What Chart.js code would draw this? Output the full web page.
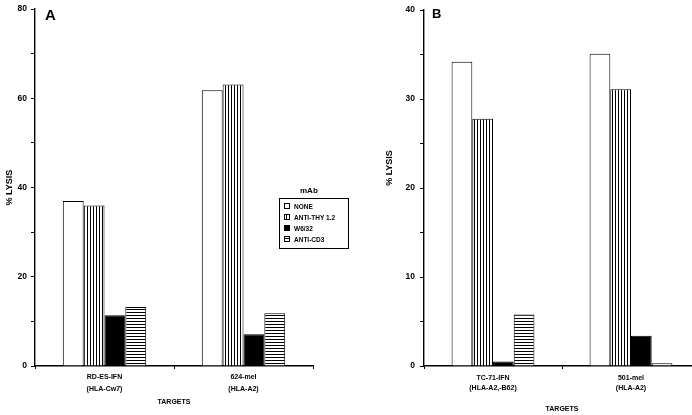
<!DOCTYPE html>
<html>
<head>
<meta charset="utf-8">
<script src="https://cdn.jsdelivr.net/npm/chart.js@4"></script>
<style>
  html, body { margin: 0; padding: 0; background: #fff; overflow: hidden; }
  body { width: 692px; height: 415px; position: relative; font-family: "Liberation Sans", Arial, sans-serif; }
  .panel { position: absolute; top: 0; height: 415px; overflow: hidden; }
  #panelA { left: 0; width: 345px; }
  #panelB { left: 345px; width: 347px; }
  #legendTitle { position: absolute; left: 300px; top: 186px; font: bold 8px "Liberation Sans", Arial, sans-serif; }
  #legend { position: absolute; left: 279px; top: 198px; width: 70px; height: 51px; border: 1px solid #000; box-sizing: border-box; background: #fff; }
  .row { position: absolute; left: 4px; height: 7px; font: bold 6.5px/7px "Liberation Sans", Arial, sans-serif; white-space: nowrap; }
  .sw { position: absolute; left: 0; top: 0; width: 6px; height: 6px; border: 1px solid #000; box-sizing: border-box; background: #fff; }
  .sw.s1 { background: linear-gradient(90deg, #fff 0 1.5px, #000 1.5px 2.5px, #fff 2.5px); }
  .sw.s2 { background: #000; }
  .sw.s3 { background: linear-gradient(180deg, #fff 0 1.5px, #000 1.5px 2.5px, #fff 2.5px); }
  .row span { position: absolute; left: 10px; top: 0; }
</style>
</head>
<body>
<div class="panel" id="panelA"><canvas id="chartA" width="345" height="415"></canvas></div>
<div class="panel" id="panelB"><canvas id="chartB" width="360" height="415"></canvas></div>
<div id="legendTitle">mAb</div>
<div id="legend"></div>
<script>
// ---- data ----
const seriesNames = ["NONE", "ANTI-THY 1.2", "W6/32", "ANTI-CD3"];

const targetsA = [["RD-ES-IFN", "(HLA-Cw7)"], ["624-mel", "(HLA-A2)"]];
const noneA = [37.0, 61.8];
const thyA = [36.0, 63.1];
const w632A = [11.4, 7.1];
const cd3A = [13.2, 11.8];

const targetsB = [["TC-71-IFN", "(HLA-A2,-B62)"], ["501-mel", "(HLA-A2)"]];
const noneB = [34.2, 35.1];
const thyB = [27.8, 31.1];
const w632B = [0.5, 3.4];
const cd3B = [5.8, 0.3];

// ---- fills ----
const FONT = "'Liberation Sans', Arial, sans-serif";
Chart.defaults.font.family = FONT;
Chart.defaults.color = "#000";

function stripes(dir) {
    const tile = document.createElement("canvas");
    tile.width = 3; tile.height = 3;
    const g = tile.getContext("2d");
    g.fillStyle = "#fff";
    g.fillRect(0, 0, 3, 3);
    g.fillStyle = "#000";
    if (dir === "v") g.fillRect(0, 0, 1, 3);
    else g.fillRect(0, 0, 3, 1);
    return g.createPattern(tile, "repeat");
}
const fills = ["#fff", stripes("v"), "#000", stripes("h")];

// text drawn straight onto the canvas (panel letters etc.)
const textMarks = {
    id: "textMarks",
    afterDraw(chart, args, opts) {
        const c = chart.ctx;
        (opts.items || []).forEach(t => {
            c.save();
            c.font = t.font;
            c.fillStyle = "#000";
            c.textAlign = t.align || "left";
            c.textBaseline = t.baseline || "alphabetic";
            c.translate(t.x, t.y);
            if (t.rotate) c.rotate(t.rotate);
            c.fillText(t.text, 0, 0);
            c.restore();
        });
    }
};

function makeDatasets(values) {
    return values.map((vals, i) => ({
        label: seriesNames[i],
        data: vals,
        backgroundColor: fills[i],
        borderColor: "#000",
        borderWidth: 1,
        categoryPercentage: 0.6,
        barPercentage: 1.0
    }));
}

function buildChart(id, labels, values, cfg) {
    return new Chart(document.getElementById(id), {
        type: "bar",
        data: { labels: labels, datasets: makeDatasets(values) },
        plugins: [textMarks],
        options: {
            responsive: false,
            animation: false,
            layout: { padding: cfg.padding },
            plugins: {
                legend: { display: false },
                tooltip: { enabled: false },
                textMarks: { items: cfg.texts }
            },
            scales: {
                x: {
                    afterFit: s => { s.height = 49; },
                    ticks: {
                        autoSkip: false, maxRotation: 0,
                        padding: cfg.xPad,
                        font: { size: 7, weight: "bold", lineHeight: cfg.xLine }
                    },
                    grid: { display: true, drawOnChartArea: false, offset: true, tickLength: 3, color: "#000" },
                    border: { display: true, color: "#000", width: 1.4 },
                    title: {
                        display: true, text: "TARGETS",
                        font: { size: 7, weight: "bold" },
                        padding: { top: 0, bottom: cfg.titlePad }
                    }
                },
                y: {
                    min: 0, max: cfg.yMax,
                    afterFit: s => { s.width = cfg.yWidth; },
                    ticks: {
                        stepSize: cfg.yStep / 2, autoSkip: false,
                        padding: cfg.yTickPad,
                        font: { size: 8.5, weight: "bold" },
                        callback: v => (v % cfg.yStep === 0 ? v : "")
                    },
                    grid: { display: true, drawOnChartArea: false, drawTicks: true, tickLength: 4, color: "#000" },
                    border: { display: true, color: "#000", width: 1.4 },
                    title: {
                        display: cfg.yTitle, text: "% LYSIS",
                        font: { size: 9, weight: "bold" },
                        padding: { top: 4, bottom: 0 }
                    }
                }
            }
        }
    });
}

buildChart("chartA", targetsA, [noneA, thyA, w632A, cd3A], {
    padding: { left: 0, top: 9, right: 32, bottom: 0 },
    yMax: 80, yStep: 20, yWidth: 35, yTickPad: 4, yTitle: true,
    xPad: 2, xLine: 1.7, titlePad: 9,
    texts: [{ text: "A", x: 45, y: 20, font: "bold 15px " + FONT }]
});

buildChart("chartB", targetsB, [noneB, thyB, w632B, cd3B], {
    padding: { left: 0, top: 9, right: 5, bottom: 0 },
    yMax: 40, yStep: 10, yWidth: 79, yTickPad: 5, yTitle: false,
    xPad: 5, xLine: 1.3, titlePad: 1.3,
    texts: [
        { text: "B", x: 87, y: 18, font: "bold 13px " + FONT },
        { text: "% LYSIS", x: 45, y: 168, font: "bold 9px " + FONT, align: "center", baseline: "middle", rotate: -Math.PI / 2 }
    ]
});

// ---- HTML legend ----
const legend = document.getElementById("legend");
seriesNames.forEach((name, i) => {
    const row = document.createElement("div");
    row.className = "row";
    row.style.top = (4 + i * 11) + "px";
    row.innerHTML = '<div class="sw s' + i + '"></div><span>' + name + '</span>';
    legend.appendChild(row);
});
</script>
</body>
</html>
